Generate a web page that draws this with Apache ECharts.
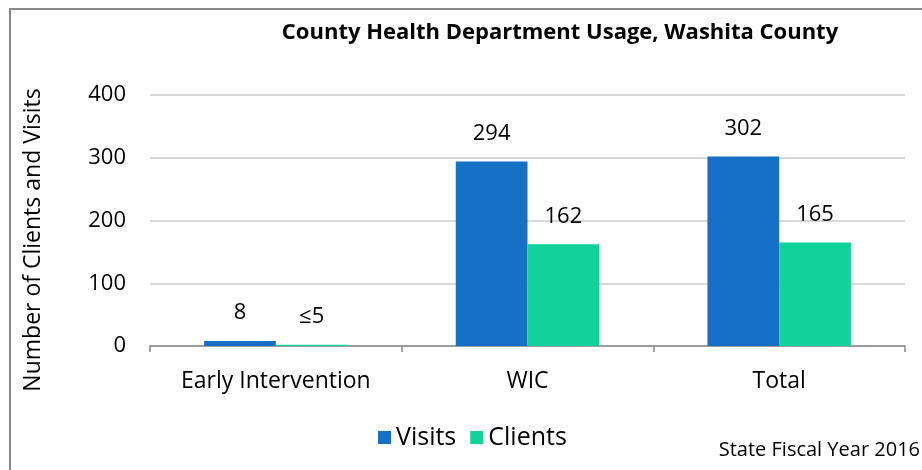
<!DOCTYPE html>
<html>
<head>
<meta charset="utf-8">
<script src="https://cdn.jsdelivr.net/npm/echarts@6/dist/echarts.min.js"></script>
<style>
  html, body { margin: 0; padding: 0; background: #fff; }
  #chart { width: 922px; height: 470px; }
</style>
</head>
<body>
<div id="chart"></div>
<script>
// data
const categories = ['Early Intervention', 'WIC', 'Total']
const visits = [8, 294, 302]
const clients = [2, 162, 165]
const visitLabels = ['8', '294', '302']
const clientLabels = ['≤5', '162', '165']
const yTicks = [0, 100, 200, 300, 400]

const font = '"Open Sans", Lato, sans-serif'

const chart = echarts.init(document.getElementById('chart'))
const option = {
  backgroundColor: '#fff',
  textStyle: { fontFamily: font },
  animation: false,
  title: {
    text: 'County Health Department Usage, Washita County',
    left: 555,
    top: 17,
    textAlign: 'center',
    textStyle: { fontFamily: font, fontSize: 22, fontWeight: 'bold', color: '#000' },
  },
  grid: { left: 150, right: 17, top: 95, bottom: 124 },
  legend: {
    data: ['Visits', 'Clients'],
    left: 373,
    top: 420,
    itemWidth: 13,
    itemHeight: 13,
    itemGap: 14,
    icon: 'rect',
    textStyle: { fontFamily: font, fontSize: 25, color: '#000' },
  },
  graphic: [
    {
      type: 'rect',
      shape: { x: 10, y: 9, width: 930, height: 480 },
      style: { fill: 'none', stroke: '#888', lineWidth: 2 },
    },
    {
      type: 'text',
      x: 33,
      y: 240,
      rotation: Math.PI / 2,
      style: {
        text: 'Number of Clients and Visits',
        fontFamily: font,
        fontSize: 23,
        fill: '#000',
        align: 'center',
        verticalAlign: 'middle',
      },
    },
    {
      type: 'text',
      right: 2,
      top: 440,
      style: { text: 'State Fiscal Year 2016', fontFamily: font, fontSize: 20, fill: '#000' },
    },
  ],
  xAxis: {
    type: 'category',
    data: categories,
    axisLine: { show: true, lineStyle: { color: '#888', width: 1.5 } },
    axisTick: { show: true, length: 6, lineStyle: { color: '#888', width: 1.5 } },
    axisLabel: { fontFamily: font, fontSize: 23, color: '#000', margin: 24 },
  },
  yAxis: {
    type: 'value',
    min: 0,
    max: 400,
    interval: 100,
    axisLine: { show: false },
    axisTick: { show: false },
    axisLabel: {
      fontFamily: font,
      fontSize: 22,
      color: '#000',
      margin: 24,
      formatter: v => (yTicks.includes(v) ? String(v) : ''),
    },
    splitLine: { lineStyle: { color: '#d9d9d9', width: 2 } },
  },
  series: [
    {
      name: 'Visits',
      type: 'bar',
      data: visits,
      barGap: '0%',
      barCategoryGap: '43%',
      itemStyle: { color: '#1570C6' },
      label: {
        show: true,
        position: 'top',
        distance: 17,
        fontFamily: font,
        fontSize: 22,
        color: '#000',
        formatter: p => visitLabels[p.dataIndex],
      },
    },
    {
      name: 'Clients',
      type: 'bar',
      data: clients,
      itemStyle: { color: '#12D29B' },
      label: {
        show: true,
        position: 'top',
        distance: 17,
        fontFamily: font,
        fontSize: 22,
        color: '#000',
        formatter: p => clientLabels[p.dataIndex],
      },
    },
  ],
}
chart.setOption(option)
window.addEventListener('resize', () => chart.resize())
</script>
</body>
</html>
